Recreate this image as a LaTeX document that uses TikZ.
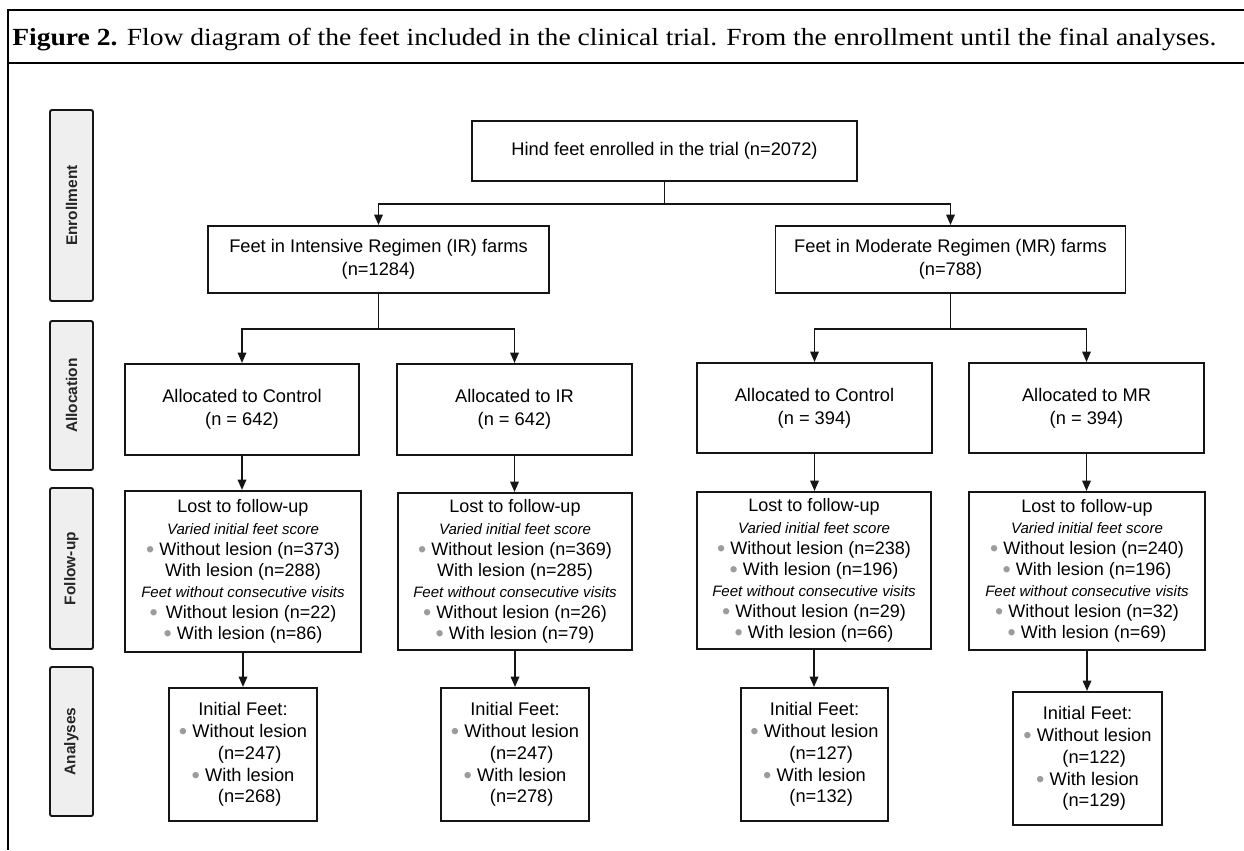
\documentclass[tikz,border=0pt]{standalone}
\usepackage{fontspec}
\usepackage{graphicx}
\setsansfont{Liberation Sans}
\newfontfamily\capfont{Liberation Serif}
\usetikzlibrary{arrows.meta}
\definecolor{bulgray}{HTML}{9C9C9C}
\definecolor{stagefill}{HTML}{EFEFEF}
\definecolor{linecol}{HTML}{151515}
\newcommand\bul{{\color{bulgray}\raisebox{-0.2ex}{\scalebox{1.3}{•}}}}
\newcommand\itl[1]{{\fontsize{11.3}{15.8}\selectfont\itshape #1}}
\begin{document}
\begin{tikzpicture}[x=0.75pt,y=-0.75pt,
  box/.style n args={2}{draw=linecol, line width=1.45pt, minimum width=#1*0.75pt,
    minimum height=#2*0.75pt, inner sep=0pt, align=center},
  fmain/.style={font=\sffamily\fontsize{13.7}{17}\selectfont},
  ffu/.style={font=\sffamily\fontsize{13.5}{15.8}\selectfont},
  fan/.style={font=\sffamily\fontsize{13.7}{16.4}\selectfont},
  stage/.style={draw=linecol, line width=1.45pt, fill=stagefill, rounded corners=1.5pt,
    minimum width=#1*0.75pt, minimum height=32.25pt, inner sep=0pt,
    font=\sffamily\bfseries\fontsize{11.6}{13}\selectfont, text=black!85, rotate=90},
  arr/.style={-{Triangle[length=7.8pt,width=6.3pt]}, draw=linecol, line width=1.45pt},
  ln/.style={draw=linecol, line width=1.45pt},
  frame/.style={line width=1.6pt, draw=black}]
\useasboundingbox (0,0) rectangle (1244,850);
% frame
\draw[frame] (1244,10) -- (8,10) -- (8,850);
\draw[frame] (8,63) -- (1244,63);
\node[anchor=base west, inner sep=0pt] (caption) at (12,45)
  {\resizebox{903pt}{13pt}{\capfont\fontsize{16}{18}\selectfont\textbf{Figure 2.} Flow diagram of the feet included in the clinical trial. From the enrollment until the final analyses.}};
% stage labels
\node[stage=191] (sEnr) at (71.5,205.5) {Enrollment};
\node[stage=149] (sAll) at (71.5,395.5) {Allocation};
\node[stage=161] (sFol) at (71.5,568.5) {Follow-up};
\node[stage=149] (sAna) at (71.5,741.5) {Analyses};
% enrollment
\node[box={385}{60}, fmain] (top) at (664.5,151) {Hind feet enrolled in the trial (n=2072)};
\node[box={341}{67}, fmain] (ir) at (378.5,259.5) {Feet in Intensive Regimen (IR) farms\\(n=1284)};
\node[box={350}{67}, fmain] (mr) at (950.5,259.5) {Feet in Moderate Regimen (MR) farms\\(n=788)};
% allocation
\node[box={234}{91}, fmain] (ac1) at (242,409.5) {Allocated to Control\\(n = 642)};
\node[box={235}{91}, fmain] (air) at (514.5,409.5) {Allocated to IR\\(n = 642)};
\node[box={235}{90}, fmain] (ac2) at (814.5,408) {Allocated to Control\\(n = 394)};
\node[box={235}{90}, fmain] (amr) at (1086.5,408) {Allocated to MR\\(n = 394)};
% follow-up
\node[box={236}{161}, ffu] (fu1) at (243,571.5) {Lost to follow-up\\ \itl{Varied initial feet score}\\ \bul\ Without lesion (n=373)\\ With lesion (n=288)\\ \itl{Feet without consecutive visits}\\ \bul\hspace{6pt}Without lesion (n=22)\\ \bul\ With lesion (n=86)};
\node[box={234}{157}, ffu] (fu2) at (515,571.5) {Lost to follow-up\\ \itl{Varied initial feet score}\\ \bul\ Without lesion (n=369)\\ With lesion (n=285)\\ \itl{Feet without consecutive visits}\\ \bul\ Without lesion (n=26)\\ \bul\ With lesion (n=79)};
\node[box={234}{157}, ffu] (fu3) at (814,570.5) {Lost to follow-up\\ \itl{Varied initial feet score}\\ \bul\ Without lesion (n=238)\\ \bul\ With lesion (n=196)\\ \itl{Feet without consecutive visits}\\ \bul\ Without lesion (n=29)\\ \bul\ With lesion (n=66)};
\node[box={236}{158}, ffu] (fu4) at (1087,571) {Lost to follow-up\\ \itl{Varied initial feet score}\\ \bul\ Without lesion (n=240)\\ \bul\ With lesion (n=196)\\ \itl{Feet without consecutive visits}\\ \bul\ Without lesion (n=32)\\ \bul\ With lesion (n=69)};
% analyses
\node[box={148}{133}, fan] (an1) at (243,754.5) {Initial Feet:\\ \bul\ Without lesion\\ \hphantom{\bul\ }(n=247)\\ \bul\ With lesion\\ \hphantom{\bul\ }(n=268)};
\node[box={148}{133}, fan] (an2) at (515,754.5) {Initial Feet:\\ \bul\ Without lesion\\ \hphantom{\bul\ }(n=247)\\ \bul\ With lesion\\ \hphantom{\bul\ }(n=278)};
\node[box={147}{133}, fan] (an3) at (814.5,754.5) {Initial Feet:\\ \bul\ Without lesion\\ \hphantom{\bul\ }(n=127)\\ \bul\ With lesion\\ \hphantom{\bul\ }(n=132)};
\node[box={149}{133}, fan] (an4) at (1087.5,758.5) {Initial Feet:\\ \bul\ Without lesion\\ \hphantom{\bul\ }(n=122)\\ \bul\ With lesion\\ \hphantom{\bul\ }(n=129)};
% connectors
\draw[ln] (top.south) -- ++(0,22) coordinate (j0);
\draw[arr] (j0) -| (ir.north);
\draw[arr] (j0) -| (mr.north);
\draw[ln] (ir.south) -- ++(0,35) coordinate (j1);
\draw[arr] (j1) -| (ac1.north);
\draw[arr] (j1) -| (air.north);
\draw[ln] (mr.south) -- ++(0,35) coordinate (j2);
\draw[arr] (j2) -| (ac2.north);
\draw[arr] (j2) -| (amr.north);
\foreach \a/\b in {ac1/fu1, air/fu2, ac2/fu3, amr/fu4, fu1/an1, fu2/an2, fu3/an3, fu4/an4}
  \draw[arr] (\a.south) -- (\a.south |- \b.north);
\end{tikzpicture}
\end{document}
